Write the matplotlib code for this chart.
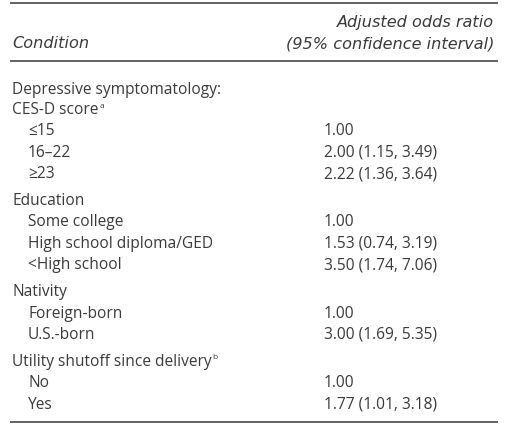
import matplotlib
matplotlib.use("Agg")
from matplotlib import pyplot as plt

# table content
groups = ["Depressive symptomatology:\nCES-D score", "Education", "Nativity", "Utility shutoff since delivery"]
group_sup = ["a", "", "", "b"]
levels = [
    ["\u226415", "16\u201322", "\u226523"],
    ["Some college", "High school diploma/GED", "<High school"],
    ["Foreign-born", "U.S.-born"],
    ["No", "Yes"],
]
odds = [
    ["1.00", "2.00 (1.15, 3.49)", "2.22 (1.36, 3.64)"],
    ["1.00", "1.53 (0.74, 3.19)", "3.50 (1.74, 7.06)"],
    ["1.00", "3.00 (1.69, 5.35)"],
    ["1.00", "1.77 (1.01, 3.18)"],
]

W, H = 511, 427
fig = plt.figure(figsize=(W / 100, H / 100), dpi=100)
ax = fig.add_axes([0, 0, 1, 1])
ax.set_xlim(0, W)
ax.set_ylim(H, 0)
ax.axis("off")

col = "#3a3a3a"
fs = 11.2
fam = ["Open Sans", "DejaVu Sans"]
hfam = ["DejaVu Sans"]
hfs = 11.6

# rules
for y in [4, 62, 423]:
    ax.plot([10, 498], [y, y], color="#555555", lw=1.3, solid_capstyle="butt")

# header
ax.text(12, 44, "Condition", style="italic", fontsize=hfs, color=col, family=hfam, va="center")
ax.text(494, 23, "Adjusted odds ratio", style="italic", fontsize=hfs, color=col, family=hfam, va="center", ha="right")
ax.text(494, 44, "(95% confidence interval)", style="italic", fontsize=hfs, color=col, family=hfam, va="center", ha="right")

# body
y = 90
step = 21.4
for g, sup, lv, od in zip(groups, group_sup, levels, odds):
    lines = g.split("\n")
    for i, ln in enumerate(lines):
        t = ax.text(12, y, ln, fontsize=fs, color=col, family=fam, va="center")
        if i == len(lines) - 1 and sup:
            fig.canvas.draw()
            bb = t.get_window_extent()
            ax.text(bb.x1 + 1, y - 4, sup, fontsize=6, color=col, family=fam, va="center")
        y += 20 if i < len(lines) - 1 else step
    for a, b in zip(lv, od):
        ax.text(28, y, a, fontsize=fs, color=col, family=fam, va="center")
        ax.text(324, y, b, fontsize=fs, color=col, family=fam, va="center")
        y += step
    y += 5.5

fig.savefig("out.png", dpi=100)
